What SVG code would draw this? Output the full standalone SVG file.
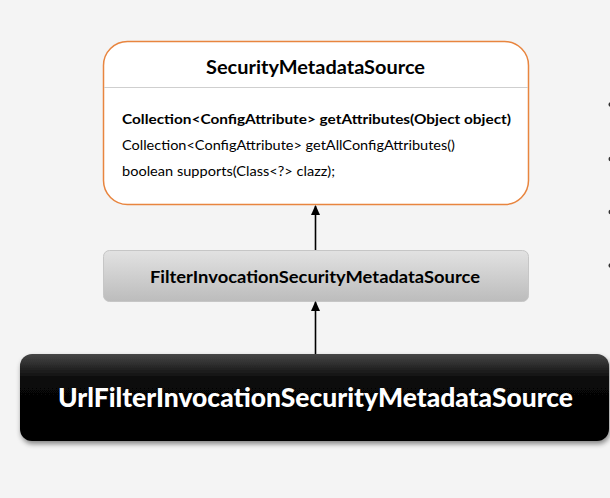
<svg xmlns="http://www.w3.org/2000/svg" width="610" height="498" viewBox="0 0 610 498">
<defs>
<style>
.t{font-family:Lato,"Open Sans","Liberation Sans",sans-serif;fill:#000}
.b{font-weight:bold}
.conn{stroke:#000;stroke-width:1.6;fill:none}
</style>
<linearGradient id="gMid" x1="0" y1="0" x2="0" y2="1">
<stop offset="0" stop-color="#e2e2e2"/>
<stop offset="1" stop-color="#bcbcbc"/>
</linearGradient>
<linearGradient id="gBot" x1="0" y1="0" x2="0" y2="1">
<stop offset="0" stop-color="#464646"/>
<stop offset="0.3" stop-color="#080808"/>
<stop offset="1" stop-color="#000"/>
</linearGradient>
<filter id="sh" x="-5%" y="-10%" width="110%" height="130%">
<feDropShadow dx="1" dy="3" stdDeviation="2.5" flood-color="#000" flood-opacity="0.45"/>
</filter>
<marker id="ah" markerWidth="10" markerHeight="10" refX="9" refY="5" orient="auto" markerUnits="userSpaceOnUse" viewBox="0 0 10 10">
<path d="M0,0.5 L10,5 L0,9.5 Z" fill="#000"/>
</marker>
</defs>
<rect width="610" height="498" fill="#f4f4f4"/>
<g id="SecurityMetadataSource">
<rect x="103.5" y="41.5" width="425" height="163" rx="24" fill="#fff" stroke="#e8853f" stroke-width="1.5"/>
<line x1="104" y1="87.5" x2="528" y2="87.5" stroke="#cfcfcf" stroke-width="1"/>
<text class="t b" x="315.5" y="74" font-size="18" text-anchor="middle" textLength="219" lengthAdjust="spacingAndGlyphs">SecurityMetadataSource</text>
<text class="t b" x="122" y="124" font-size="14" textLength="389" lengthAdjust="spacingAndGlyphs">Collection&lt;ConfigAttribute&gt; getAttributes(Object object)</text>
<text class="t" x="122" y="150" font-size="14" textLength="333" lengthAdjust="spacingAndGlyphs">Collection&lt;ConfigAttribute&gt; getAllConfigAttributes()</text>
<text class="t" x="122" y="175.5" font-size="14" textLength="213" lengthAdjust="spacingAndGlyphs">boolean supports(Class&lt;?&gt; clazz);</text>
</g>
<g id="FilterInvocationSecurityMetadataSource">
<rect x="103.5" y="250.5" width="425" height="51" rx="6" fill="url(#gMid)" stroke="#c6c6c6" stroke-width="1"/>
<text class="t b" x="315" y="283" font-size="17" text-anchor="middle" textLength="330" lengthAdjust="spacingAndGlyphs">FilterInvocationSecurityMetadataSource</text>
</g>
<g id="UrlFilterInvocationSecurityMetadataSource">
<rect x="20" y="354" width="589" height="87" rx="12" fill="url(#gBot)" filter="url(#sh)"/>
<text class="t" x="315.5" y="407" font-size="27" font-weight="900" text-anchor="middle" style="fill:#fff" textLength="515" lengthAdjust="spacingAndGlyphs">UrlFilterInvocationSecurityMetadataSource</text>
</g>
<g id="connectors">
<line class="conn" x1="315.5" y1="250" x2="315.5" y2="206" marker-end="url(#ah)"/>
<line class="conn" x1="315.5" y1="354" x2="315.5" y2="302" marker-end="url(#ah)"/>
</g>
<g id="bullets" fill="#333">
<circle cx="611" cy="104.5" r="2.5"/>
<circle cx="611" cy="159" r="2.5"/>
<circle cx="611" cy="212" r="2.5"/>
<circle cx="611" cy="265.5" r="2.5"/>
</g>
</svg>
